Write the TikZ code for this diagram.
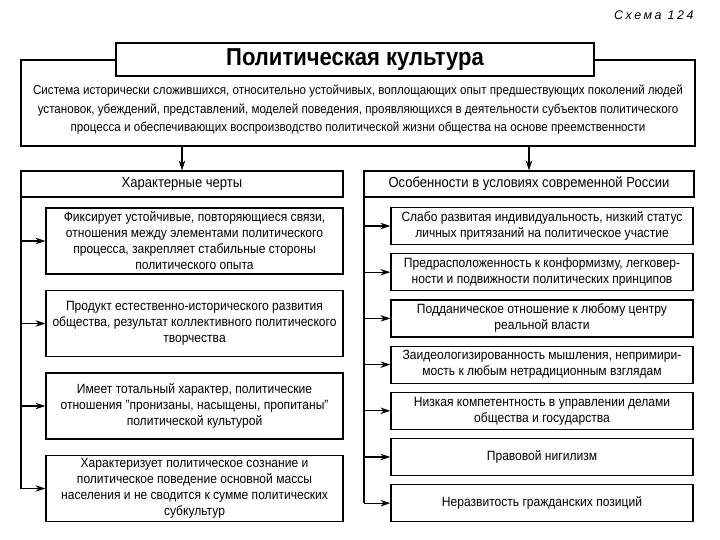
\documentclass[tikz,border=0pt]{standalone}
\usepackage{fontspec}
\setmainfont[FakeStretch=0.9]{Liberation Sans}
\newfontfamily\schemefont[LetterSpace=20]{Liberation Sans}
\usetikzlibrary{arrows.meta}

\begin{document}
\begin{tikzpicture}[x=1pt,y=-1pt,
  box/.style={draw,line width=1.2pt,fill=white,inner sep=1pt,align=center},
  item/.style={box,font=\fontsize{13.4}{16}\selectfont},
  head/.style={box,font=\fontsize{14.5}{18}\selectfont,minimum height=26pt},
  arr/.style={line width=1.2pt,-{Stealth[length=10pt,width=6.5pt]}},
  trunk/.style={line width=2pt,black}]
\useasboundingbox (0,0) rectangle (720,540);
% ---- scheme number ----
\node[anchor=east,font=\schemefont\itshape\fontsize{12.5}{14}\selectfont] (num) at (697,15) {Схема 124};
% ---- definition block with title ----
\node[box,minimum width=674pt,minimum height=86pt] (defn) at (358,103) {};
\node[font=\fontsize{12.9}{18.5}\selectfont,align=center] (defntext) at (358,110)
  {Система исторически сложившихся, относительно устойчивых, воплощающих опыт предшествующих поколений людей\\
   установок, убеждений, представлений, моделей поведения, проявляющихся в деятельности субъектов политического\\
   процесса и обеспечивающих воспроизводство политической жизни общества на основе преемственности};
\node[box,minimum width=478pt,minimum height=33pt,font=\bfseries\fontsize{24.5}{26}\selectfont] (title) at (355,59.5) {Политическая культура};
% ---- column heads ----
\node[head,minimum width=322pt] (lhead) at (182,184) {Характерные черты};
\node[head,minimum width=330pt] (rhead) at (529,184) {Особенности в условиях современной России};
\draw[arr] (defn.south -| lhead.north) -- (lhead.north);
\draw[arr] (defn.south -| rhead.north) -- (rhead.north);
% ---- left column ----
\foreach \txt [count=\i] in {
  {Фиксирует устойчивые, повторяющиеся связи,\\отношения между элементами политического\\процесса, закрепляет стабильные стороны\\политического опыта},
  {Продукт естественно-исторического развития\\общества, результат коллективного политического\\творчества},
  {Имеет тотальный характер, политические\\отношения "пронизаны, насыщены, пропитаны"\\политической культурой},
  {Характеризует политическое сознание и\\политическое поведение основной массы\\населения и не сводится к сумме политических\\субкультур}}
  \node[item,minimum width=297pt,minimum height=66pt] (l\i) at (194.5,{241+82.5*(\i-1)}) {\txt};
\coordinate (ltop) at ([xshift=1pt]lhead.south west);
\draw[trunk] (ltop) -- (ltop |- l4.west);
\foreach \i in {1,...,4}
  \draw[arr] (ltop |- l\i.west) -- (l\i.west);
% ---- right column ----
\foreach \txt [count=\i] in {
  {Слабо развитая индивидуальность, низкий статус\\личных притязаний на политическое участие},
  {Предрасположенность к конформизму, легковер-\\ности и подвижности политических принципов},
  {Подданическое отношение к любому центру\\реальной власти},
  {Заидеологизированность мышления, непримири-\\мость к любым нетрадиционным взглядам},
  {Низкая компетентность в управлении делами\\общества и государства},
  {Правовой нигилизм},
  {Неразвитость гражданских позиций}}
  \node[item,minimum width=302pt,minimum height=37pt] (r\i) at (542,{226+46.2*(\i-1)}) {\txt};
\coordinate (rtop) at ([xshift=1pt]rhead.south west);
\draw[trunk] (rtop) -- (rtop |- r7.west);
\foreach \i in {1,...,7}
  \draw[arr] (rtop |- r\i.west) -- (r\i.west);
\end{tikzpicture}
\end{document}
